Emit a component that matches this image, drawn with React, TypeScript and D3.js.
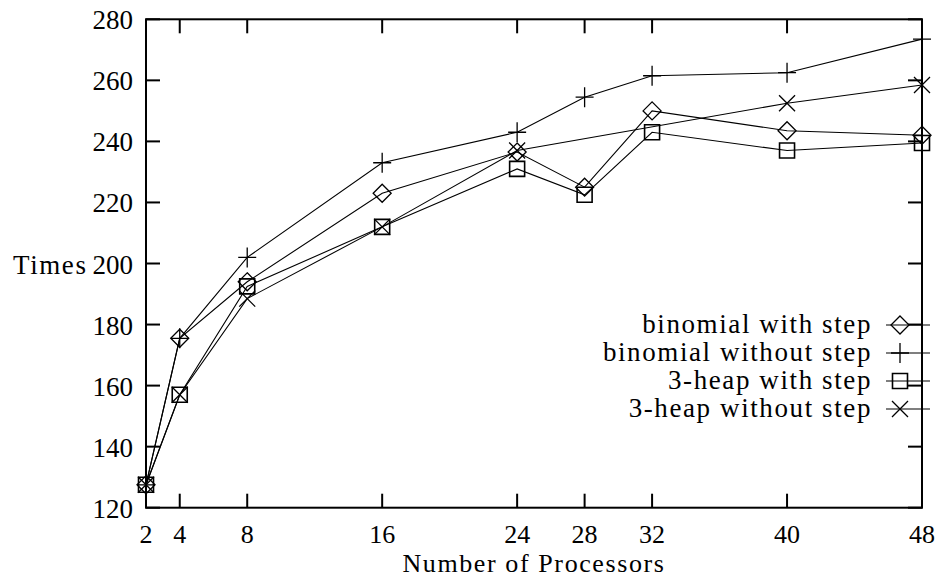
import * as d3 from 'd3';
import React, { useRef, useEffect } from 'react';

const width = 940;
const height = 578;
const plot = { left: 146, right: 922, top: 19.3, bottom: 507.7 };

const processors = [2, 4, 8, 16, 24, 28, 32, 40, 48];
const xTicks = [2, 4, 8, 16, 24, 28, 32, 40, 48];
const yTicks = [120, 140, 160, 180, 200, 220, 240, 260, 280];

const binomialWithStep = [127.5, 175.5, 194, 223, 236.5, 225, 250, 243.5, 242];
const binomialWithoutStep = [127.5, 175.5, 202, 233, 243, 254.5, 261.5, 262.5, 273.5];
const heapWithStep = [127.5, 157, 192.5, 212, 231, 222.5, 243, 237, 239.5];
const heapWithoutStep = [127.5, 157, 188.5, 212, 237, null, null, 252.5, 258.5];

const seriesNames = ['binomial with step', 'binomial without step', '3-heap with step', '3-heap without step'];
const seriesValues = [binomialWithStep, binomialWithoutStep, heapWithStep, heapWithoutStep];
const seriesMarks = ['diamond', 'plus', 'square', 'cross'];

const font = '"Liberation Serif", "Times New Roman", serif';

const App = () => {
  const svgRef = useRef<SVGSVGElement>(null);

  useEffect(() => {
    const xScale = d3.scaleLinear().domain([2, 48]).range([plot.left, plot.right]);
    const yScale = d3.scaleLinear().domain([120, 280]).range([plot.bottom, plot.top]);

    const svg = d3.select(svgRef.current);
    svg.selectAll('*').remove();

    const tick = 14;

    // ticks (inward, mirrored on all sides)
    yTicks.forEach(v => {
      const y = yScale(v);
      svg.append('line').attr('x1', plot.left).attr('x2', plot.left + tick).attr('y1', y).attr('y2', y)
        .attr('stroke', '#000').attr('stroke-width', 2);
      svg.append('line').attr('x1', plot.right).attr('x2', plot.right - tick).attr('y1', y).attr('y2', y)
        .attr('stroke', '#000').attr('stroke-width', 2);
      svg.append('text').attr('x', plot.left - 13).attr('y', y + 10)
        .attr('text-anchor', 'end').attr('font-family', font).attr('font-size', 27)
        .text(v);
    });
    xTicks.forEach(v => {
      const x = xScale(v);
      svg.append('line').attr('x1', x).attr('x2', x).attr('y1', plot.bottom).attr('y2', plot.bottom - tick)
        .attr('stroke', '#000').attr('stroke-width', 2);
      svg.append('line').attr('x1', x).attr('x2', x).attr('y1', plot.top).attr('y2', plot.top + tick)
        .attr('stroke', '#000').attr('stroke-width', 2);
      svg.append('text').attr('x', x).attr('y', 543)
        .attr('text-anchor', 'middle').attr('font-family', font).attr('font-size', 26)
        .text(v);
    });

    // border
    svg.append('rect')
      .attr('x', plot.left).attr('y', plot.top)
      .attr('width', plot.right - plot.left).attr('height', plot.bottom - plot.top)
      .attr('fill', 'none').attr('stroke', '#000').attr('stroke-width', 2);

    // axis titles
    svg.append('text').attr('x', 13).attr('y', yScale(200) + 10)
      .attr('font-family', font).attr('font-size', 27).attr('letter-spacing', 1.6)
      .text('Times');
    svg.append('text').attr('x', (plot.left + plot.right) / 2).attr('y', 572)
      .attr('text-anchor', 'middle').attr('font-family', font).attr('font-size', 26).attr('letter-spacing', 1.6)
      .text('Number of Processors');

    const drawMark = (g, kind, x, y) => {
      const s = g.append('path').attr('fill', 'none').attr('stroke', '#000').attr('stroke-width', 1.3);
      if (kind === 'diamond') {
        s.attr('d', `M${x},${y - 9}L${x + 9},${y}L${x},${y + 9}L${x - 9},${y}Z`);
      } else if (kind === 'plus') {
        s.attr('d', `M${x - 9},${y}H${x + 9}M${x},${y - 10}V${y + 10}`);
      } else if (kind === 'square') {
        s.attr('d', `M${x - 7.5},${y - 7.5}h15v15h-15Z`).attr('stroke-width', 1.6);
      } else {
        s.attr('d', `M${x - 8},${y - 8}L${x + 8},${y + 8}M${x - 8},${y + 8}L${x + 8},${y - 8}`);
      }
    };

    const line = d3.line<[number, number]>()
      .x(d => xScale(d[0]))
      .y(d => yScale(d[1]));

    seriesValues.forEach((vals, i) => {
      const pts = processors
        .map((p, j) => [p, vals[j]] as [number, number])
        .filter(d => d[1] != null);
      svg.append('path')
        .attr('d', line(pts))
        .attr('fill', 'none')
        .attr('stroke', '#000')
        .attr('stroke-width', 1.1);
      const g = svg.append('g');
      pts.forEach(d => drawMark(g, seriesMarks[i], xScale(d[0]), yScale(d[1])));
    });

    // legend
    const legendY0 = 325;
    seriesNames.forEach((name, i) => {
      const y = legendY0 + i * 28;
      svg.append('text').attr('x', 872).attr('y', y + 8)
        .attr('text-anchor', 'end').attr('font-family', font).attr('font-size', 27).attr('letter-spacing', 1.6)
        .text(name);
      svg.append('line').attr('x1', 886).attr('x2', 930).attr('y1', y).attr('y2', y)
        .attr('stroke', '#000').attr('stroke-width', 1.1);
      drawMark(svg.append('g'), seriesMarks[i], 900, y);
    });
  }, []);

  return (
    <svg
      ref={svgRef}
      width={width}
      height={height}
      style={{ position: 'absolute', left: 0, top: 0, background: '#fff' }}
    />
  );
};

export default App;
